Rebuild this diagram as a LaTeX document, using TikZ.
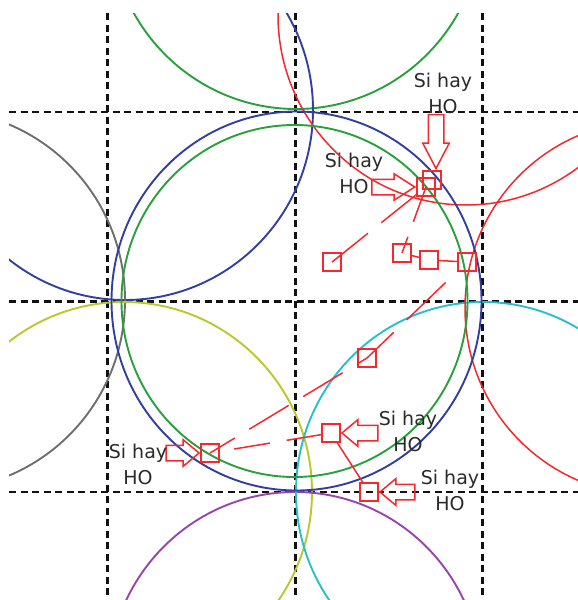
\documentclass[tikz,border=0pt]{standalone}
\usepackage{fontspec}
\setmainfont{DejaVu Sans}
\usetikzlibrary{shapes.arrows}
\definecolor{cGrid}{HTML}{111111}
\definecolor{cBlue}{HTML}{333FA0}
\definecolor{cGreen}{HTML}{28A03C}
\definecolor{cRed}{HTML}{F5282D}
\definecolor{cGray}{HTML}{6E6E6E}
\definecolor{cOlive}{HTML}{B9C82D}
\definecolor{cPurple}{HTML}{9646AA}
\definecolor{cCyan}{HTML}{28BECD}
\definecolor{cInk}{HTML}{2A2A2A}

\begin{document}
\begin{tikzpicture}[
  x=1pt, y=-1pt,
  font=\fontsize{19}{26}\selectfont,
  gridline/.style={draw=cGrid, line width=2.6pt, dash pattern=on 7pt off 4.5pt},
  cell/.style={line width=1.9pt},
  ms/.style={draw=cRed, line width=1.6pt, minimum size=18pt, inner sep=0pt},
  track/.style={draw=cRed, line width=1.5pt},
  hoarrow/.style={single arrow, draw=cRed, line width=1.5pt, inner xsep=0pt,
                  inner ysep=7pt, single arrow head extend=5.5pt,
                  single arrow tip angle=80},
  lbl/.style={align=center, text=cInk, inner sep=0pt},
]
\useasboundingbox (0,0) rectangle (578,600);

\begin{scope}
\clip (9,13) rectangle (578,600);

% ---------------- cell grid ----------------
\foreach \gx in {107.5,295.5,482.5}
  \draw[gridline] (\gx,13) -- (\gx,600);
\foreach \gy in {112,301.5,492}
  \draw[gridline] (9,\gy) -- (578,\gy);

% ---------------- neighbour cells ----------------
\draw[cell, cGreen]  (296,-79)  ellipse [x radius=186, y radius=188];
\draw[cell, cBlue]   (125,110)  ellipse [x radius=188, y radius=190];
\draw[cell, cGray]   (-63,300)  ellipse [x radius=188, y radius=190];
\draw[cell, cOlive]  (124,492)  ellipse [x radius=188, y radius=190];
\draw[cell, cPurple] (295,682)  ellipse [x radius=187, y radius=190];
\draw[cell, cCyan]   (483,492)  ellipse [x radius=187, y radius=190];
\draw[cell, cRed, line width=1.5pt] (650,308) ellipse [x radius=185, y radius=187];
\draw[cell, cRed, line width=1.5pt] (466,15)  ellipse [x radius=188, y radius=190];

% ---------------- serving cell ----------------
\draw[cell, cBlue]  (296.5,301) ellipse [x radius=185, y radius=189.5];
\draw[cell, cGreen] (294.5,301) ellipse [x radius=173, y radius=176];
\end{scope}

% ---------------- mobile positions ----------------
\node[ms] (sqA1) at (432,180) {};
\node[ms] (sqA2) at (426,187) {};
\node[ms] (sqB)  at (332,262) {};
\node[ms] (sqC)  at (402,253) {};
\node[ms] (sqD)  at (429,260) {};
\node[ms] (sqE)  at (467,262) {};
\node[ms] (sqF)  at (367,358) {};
\node[ms] (sqG)  at (210,453) {};
\node[ms] (sqH)  at (331,433) {};
\node[ms] (sqI)  at (369,492) {};

% trajectory
\draw[track, dash pattern=on 46pt off 17pt] (sqB.center) -- (sqA2.center);
\draw[track, dash pattern=on 37pt off 16pt on 50pt off 10pt] (sqA2.center) -- (sqC.center);
\draw[track] (sqC) -- (sqD);
\draw[track] (sqD) -- (sqE);
\draw[track, dash pattern=on 37pt off 18pt on 54pt off 40pt] (sqF.center) -- (sqE.center);
\draw[track, dash pattern=on 46pt off 17pt, dash phase=17pt] (sqG.center) -- (sqF.center);
\draw[track, dash pattern=on 36pt off 17pt on 36pt off 40pt, dash phase=120pt]
  (sqH.center) -- (sqG.center);
\draw[track] (sqH) -- (sqI);

% ---------------- handover marks ----------------
\node[hoarrow, rotate=-90, anchor=tip, minimum height=54pt,
      single arrow tip angle=55] (arA) at ([xshift=4pt]sqA1.north) {};
\node[hoarrow, anchor=tip, minimum height=43pt,
      single arrow tip angle=65] (arB) at (sqA2.west) {};
\node[hoarrow, anchor=tip, minimum height=33pt] (arG) at (sqG.west) {};
\node[hoarrow, rotate=180, anchor=tip, minimum height=36pt] (arH) at (sqH.east) {};
\node[hoarrow, rotate=180, anchor=tip, minimum height=35pt] (arI) at (sqI.east) {};

\node[lbl] (hoA) at (443,93)    {Si hay\\HO};
\node[lbl] (hoB) at (354,173)   {Si hay\\HO};
\node[lbl] (hoG) at (138,464)   {Si hay\\HO};
\node[lbl] (hoH) at (408,431)   {Si hay\\HO};
\node[lbl] (hoI) at (450,490.5) {Si hay\\HO};

\end{tikzpicture}
\end{document}
